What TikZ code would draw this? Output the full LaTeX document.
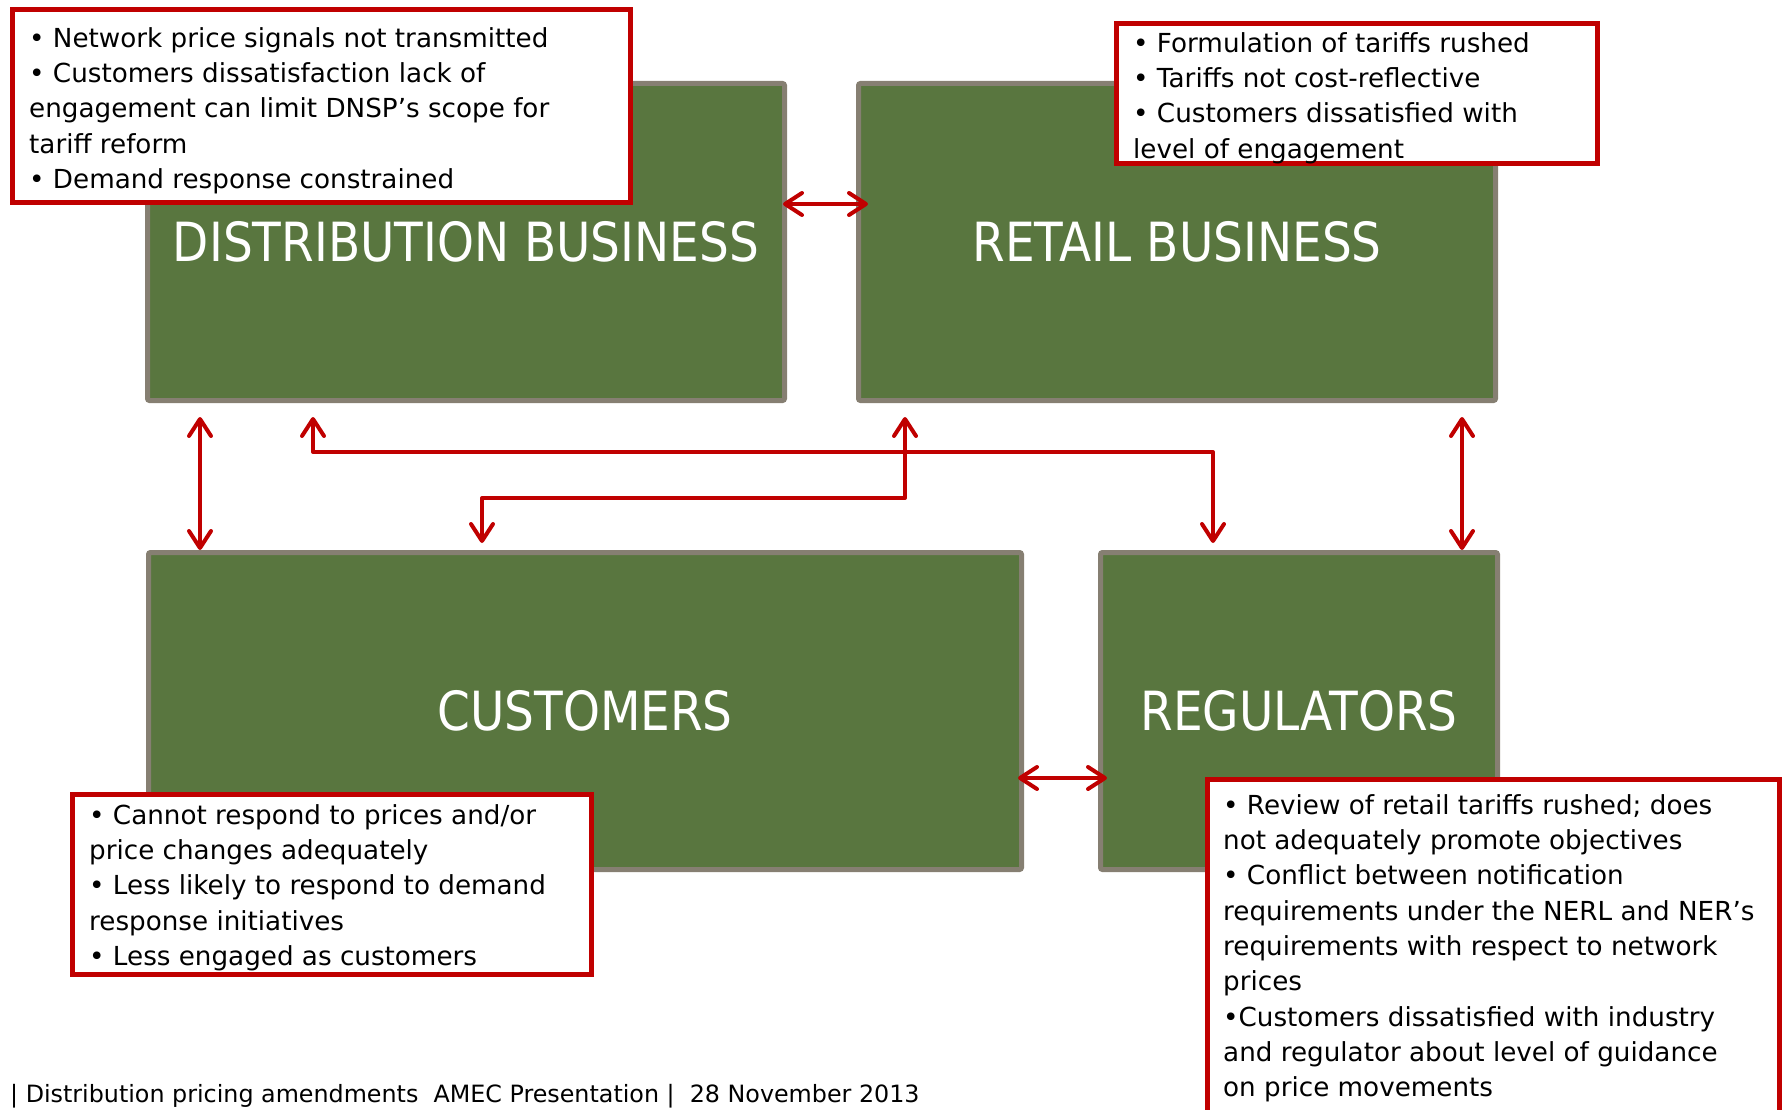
\documentclass[tikz,border=0pt]{standalone}
\usepackage{fontspec}
\setmainfont{DejaVu Sans}
\newfontfamily\labelfont[FakeStretch=0.87]{DejaVu Sans}
\usetikzlibrary{arrows.meta,calc}
\definecolor{boxgreen}{RGB}{89,118,63}
\definecolor{boxgray}{RGB}{134,127,114}
\definecolor{calloutred}{RGB}{192,0,0}
% fixes the height of the first line of each note block
\newcommand\firstline{\rule{0pt}{26pt}}

\begin{document}
\begin{tikzpicture}[x=1pt,y=-1pt,
  entity/.style={draw=boxgray, fill=boxgreen, line width=5pt, rounded corners=2pt,
    text=white, font=\labelfont\fontsize{54}{60}\selectfont, inner sep=0pt},
  callout/.style={draw=calloutred, fill=white, line width=5pt, inner sep=0pt},
  notes/.style={anchor=north west, inner sep=0pt, align=left,
    font=\fontsize{26.2}{35.3}\selectfont},
  conn/.style={draw=calloutred, line width=4pt, line cap=round, line join=round,
    >={Straight Barb[length=17pt,width=22pt,round]}},
]
\useasboundingbox (0,0) rectangle (1791,1110);
\clip (0,0) rectangle (1791,1110);

% the four parties
\node[entity, minimum width=637pt, minimum height=317pt] (dist) at (466,242) {DISTRIBUTION BUSINESS};
\node[entity, minimum width=637pt, minimum height=317pt] (retail) at (1177,242) {RETAIL BUSINESS};
\node[entity, minimum width=873pt, minimum height=317pt] (cust) at (585,711) {CUSTOMERS};
\node[entity, minimum width=397pt, minimum height=317pt] (reg) at (1299,711) {REGULATORS};

% issue call-outs
\node[callout, minimum width=618pt, minimum height=193pt] (tlbox) at (321.5,106) {};
\node[notes] (tlnotes) at (29,21) {\firstline• Network price signals not transmitted\\
• Customers dissatisfaction lack of\\
engagement can limit DNSP’s scope for\\
tariff reform\\
• Demand response constrained};

\node[callout, minimum width=481pt, minimum height=140pt] (trbox) at (1357,93.5) {};
\node[notes] (trnotes) at (1133,26) {\firstline• Formulation of tariffs rushed\\
• Tariffs not cost-reflective\\
• Customers dissatisfied with\\
level of engagement};

\node[callout, minimum width=519pt, minimum height=180pt] (blbox) at (332,884.5) {};
\node[notes] (blnotes) at (89,798) {\firstline• Cannot respond to prices and/or\\
price changes adequately\\
• Less likely to respond to demand\\
response initiatives\\
• Less engaged as customers};

\node[callout, minimum width=572pt, minimum height=348pt] (brbox) at (1493.5,953.5) {};
\node[notes] (brnotes) at (1223,788) {\firstline• Review of retail tariffs rushed; does\\
not adequately promote objectives\\
• Conflict between notification\\
requirements under the NERL and NER’s\\
requirements with respect to network\\
prices\\
•Customers dissatisfied with industry\\
and regulator about level of guidance\\
on price movements};

% connector routing points
\coordinate (lv) at (200,0);
\coordinate (rv) at (1462,0);
\coordinate (ea) at (313,417);
\coordinate (eb) at (1213,543);
\coordinate (ec) at (905,417);
\coordinate (ed) at (482,543);

% relationships
\draw[conn,<->] ([xshift=-4pt]dist.east |- 0,204) -- ([xshift=12pt]retail.west |- 0,204);
\draw[conn,<->] ([xshift=-6pt]cust.east |- 0,778) -- ([xshift=9pt]reg.west |- 0,778);
\draw[conn,<->] ([yshift=-14pt]dist.south -| lv) -- (lv |- cust.north);
\draw[conn,<->] ([yshift=-14pt]retail.south -| rv) -- (rv |- reg.north);
\draw[conn,<->] (ea) -- (313,452) -- (1213,452) -- (eb);
\draw[conn,<->] (ec) -- (905,498) -- (482,498) -- (ed);

% footer
\node[anchor=base west, inner sep=0pt, font=\fontsize{23.8}{28}\selectfont] (footer) at (10,1102)
  {| Distribution pricing amendments\ \ AMEC Presentation |\ \ 28 November 2013};
\end{tikzpicture}
\end{document}
